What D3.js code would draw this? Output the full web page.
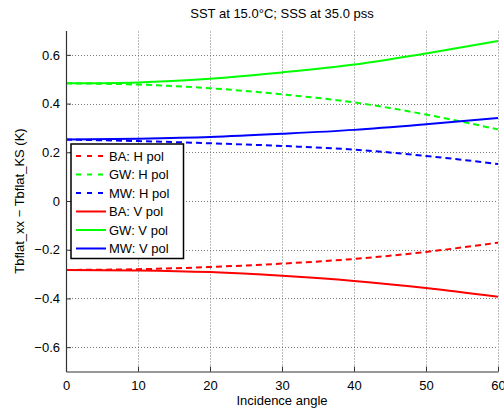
<!DOCTYPE html>
<html><head><meta charset="utf-8">
<script src="https://cdn.jsdelivr.net/npm/d3@7"></script>
<style>body{margin:0;background:#fff;}svg{display:block;font-family:"Liberation Sans",Arial,Helvetica,sans-serif;}</style>
</head><body>
<svg id="c" width="504" height="415"></svg>
<script>
const angles = [0, 10, 20, 30, 40, 50, 60];
const baH = [-0.283, -0.280, -0.271, -0.257, -0.238, -0.209, -0.171];
const gwH = [0.483, 0.478, 0.463, 0.438, 0.405, 0.355, 0.294];
const mwH = [0.252, 0.246, 0.237, 0.226, 0.211, 0.185, 0.152];
const baV = [-0.283, -0.285, -0.292, -0.307, -0.328, -0.357, -0.393];
const gwV = [0.483, 0.487, 0.502, 0.528, 0.560, 0.606, 0.657];
const mwV = [0.252, 0.256, 0.263, 0.276, 0.292, 0.315, 0.341];
const seriesNames = ["BA: H pol","GW: H pol","MW: H pol","BA: V pol","GW: V pol","MW: V pol"];
const xTicks = [0, 10, 20, 30, 40, 50, 60];
const yTicks = [-0.6, -0.4, -0.2, 0, 0.2, 0.4, 0.6];
const titleText = "SST at 15.0°C; SSS at 35.0 pss";
const xLabel = "Incidence angle";
const yLabel = "Tbflat_xx − Tbflat_KS (K)";

const series = [
  {name: seriesNames[0], values: baH, color: "#ff0000", dash: "6,4"},
  {name: seriesNames[1], values: gwH, color: "#00ff00", dash: "6,4"},
  {name: seriesNames[2], values: mwH, color: "#0000ff", dash: "6,4"},
  {name: seriesNames[3], values: baV, color: "#ff0000", dash: null},
  {name: seriesNames[4], values: gwV, color: "#00ff00", dash: null},
  {name: seriesNames[5], values: mwV, color: "#0000ff", dash: null}
];

const svg = d3.select("#c");
const x = d3.scaleLinear().domain([0, 60]).range([66, 498]);
const y = d3.scaleLinear().domain([-0.7, 0.7]).range([371.5, 30.5]);
const fmt = v => v === 0 ? "0" : (v < 0 ? "\u2212" + Math.abs(v).toFixed(1) : v.toFixed(1));

// grid
const grid = svg.append("g");
grid.selectAll("line.gx").data(xTicks.filter(d => d > 0)).join("line")
  .attr("x1", d => Math.round(x(d)) + 0.5).attr("x2", d => Math.round(x(d)) + 0.5)
  .attr("y1", y(-0.7)).attr("y2", y(0.7))
  .attr("stroke", "#777").attr("stroke-width", 1).attr("stroke-dasharray", "1,2");
grid.selectAll("line.gy").data(yTicks).join("line")
  .attr("y1", d => Math.round(y(d)) + 0.5).attr("y2", d => Math.round(y(d)) + 0.5)
  .attr("x1", x(0)).attr("x2", x(60))
  .attr("stroke", "#777").attr("stroke-width", 1).attr("stroke-dasharray", "1,2");

// lines
const line = d3.line().x((d, i) => x(angles[i])).y(d => y(d)).curve(d3.curveMonotoneX);
svg.append("g").selectAll("path").data(series).join("path")
  .attr("d", d => line(d.values))
  .attr("fill", "none").attr("stroke", d => d.color).attr("stroke-width", 2)
  .attr("stroke-dasharray", d => d.dash);

// axes
const xAxis = d3.axisBottom(x).tickValues(xTicks).tickSizeInner(-5).tickSizeOuter(0).tickPadding(9).tickFormat(d3.format("d"));
const yAxis = d3.axisLeft(y).tickValues(yTicks).tickSizeInner(-5).tickSizeOuter(0).tickPadding(6).tickFormat(fmt);
const gx = svg.append("g").attr("transform", `translate(0,${y(-0.7)})`).call(xAxis);
const gy = svg.append("g").attr("transform", `translate(${x(0)},0)`).call(yAxis);
[gx, gy].forEach(g => {
  g.select(".domain").attr("stroke", "#333").attr("stroke-width", 1.2);
  g.selectAll(".tick line").attr("stroke", "#333");
  g.selectAll(".tick text").attr("fill", "#000").attr("font-size", 13)
    .attr("font-family", "Liberation Sans, Arial, sans-serif");
});

// title and labels
svg.append("text").attr("x", 282).attr("y", 18).attr("text-anchor", "middle")
  .attr("font-size", 13).text(titleText);
svg.append("text").attr("x", 282).attr("y", 405).attr("text-anchor", "middle")
  .attr("font-size", 13).text(xLabel);
svg.append("text").attr("transform", "translate(24,201) rotate(-90)").attr("text-anchor", "middle")
  .attr("font-size", 13).text(yLabel);

// legend
const lg = svg.append("g");
lg.append("rect").attr("x", 71).attr("y", 144).attr("width", 112.5).attr("height", 114.5)
  .attr("fill", "#fff").attr("stroke", "#000").attr("stroke-width", 1.5);
const rows = lg.selectAll("g.r").data(series).join("g")
  .attr("transform", (d, i) => `translate(0,${156 + i * 18.5})`);
rows.append("line").attr("x1", 76).attr("x2", 106).attr("y1", 0).attr("y2", 0)
  .attr("stroke", d => d.color).attr("stroke-width", 2).attr("stroke-dasharray", d => d.dash ? "5,6" : null);
rows.append("text").attr("x", 109).attr("y", 4.5).attr("font-size", 13).text(d => d.name);
</script>
</body></html>
